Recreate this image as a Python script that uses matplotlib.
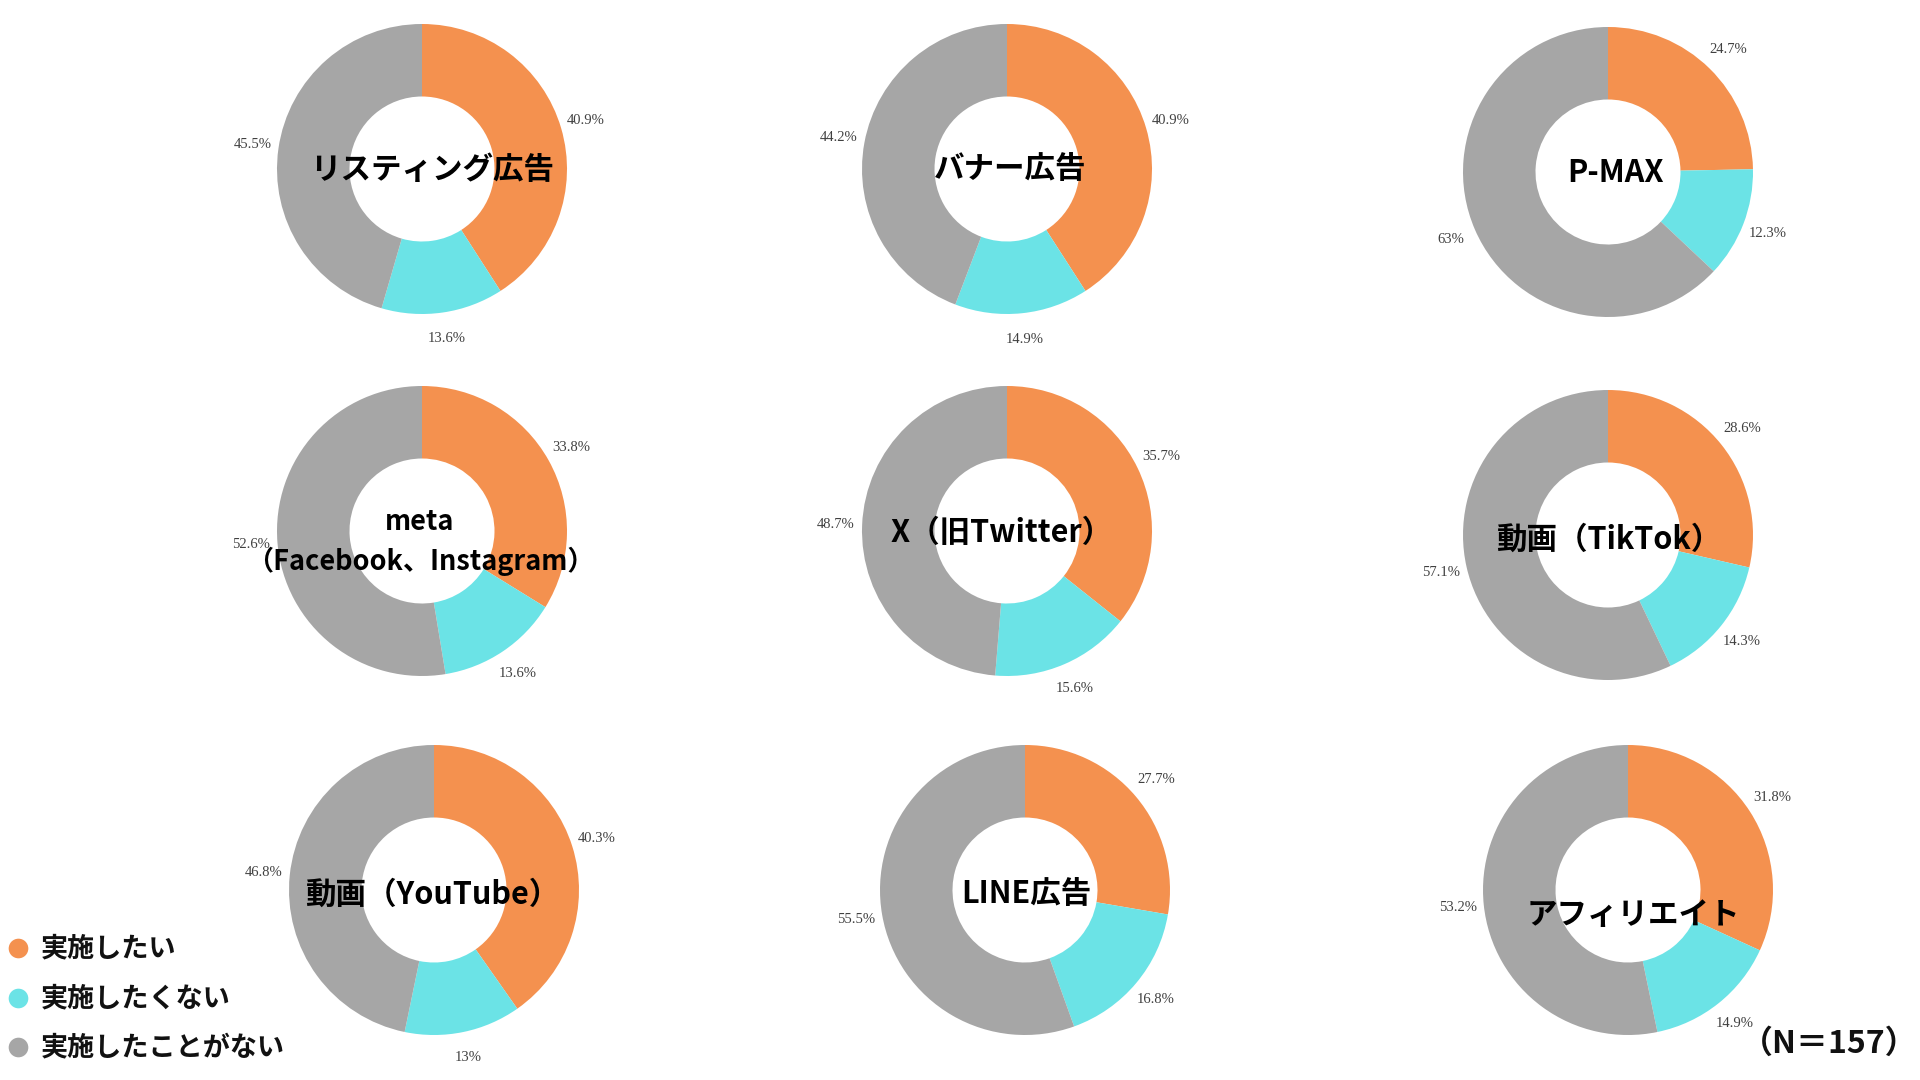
import matplotlib
matplotlib.use("Agg")
import matplotlib.pyplot as plt

plt.rcParams['font.family'] = ['Noto Sans CJK JP', 'DejaVu Sans']

# ---- data -------------------------------------------------------------
categories = ["実施したい", "実施したくない", "実施したことがない"]
titles = [
    "リスティング広告", "バナー広告", "P-MAX",
    "meta\n（Facebook、Instagram）", "X（旧Twitter）", "動画（TikTok）",
    "動画（YouTube）", "LINE広告", "アフィリエイト",
]
want = [40.9, 40.9, 24.7, 33.8, 35.7, 28.6, 40.3, 27.7, 31.8]
not_want = [13.6, 14.9, 12.3, 13.6, 15.6, 14.3, 13.0, 16.8, 14.9]
never = [45.5, 44.2, 63.0, 52.6, 48.7, 57.1, 46.8, 55.5, 53.2]
sample_note = "（N＝157）"

colors = ["#F4914F", "#6BE3E6", "#A6A6A6"]

# ---- layout (pixels, origin top-left) ---------------------------------
W, H = 1920, 1080
R = 145                       # outer radius in px
LIM = 1.5                     # data half-extent of each donut axes
S = 2 * LIM * R               # axes side in px
centers = [
    (422, 169), (1007, 169), (1608, 172),
    (422, 531), (1007, 531), (1608, 535),
    (434, 890), (1025, 890), (1628, 890),
]
# title offsets from donut centre, px (right, down)
title_offsets = [
    (10, 1), (3, 0), (8, 1),
    (-2, 11), (-5, 2), (1, 5),
    (-2, 5), (1, 4), (5, 25),
]

fig = plt.figure(figsize=(W / 100, H / 100), dpi=100)
fig.patch.set_facecolor("white")

for i, (cx, cy) in enumerate(centers):
    ax = fig.add_axes([(cx - S / 2) / W, 1 - (cy + S / 2) / H, S / W, S / H])
    vals = [want[i], not_want[i], never[i]]
    labels = [f"{v:g}%" for v in vals]
    wedges, texts = ax.pie(
        vals, colors=colors, labels=labels, startangle=90,
        counterclock=False, radius=1.0, labeldistance=1.18,
        wedgeprops=dict(width=0.5, linewidth=0),
        textprops=dict(family="Liberation Serif", fontsize=10.5, color="#404040"),
    )
    for t in texts:
        t.set_ha("center")
        t.set_va("center")
    ax.set_xlim(-LIM, LIM)
    ax.set_ylim(-LIM, LIM)
    ax.set_aspect("equal")
    ax.axis("off")

    ox, oy = title_offsets[i]
    lines = titles[i].split("\n")
    if len(lines) == 1:
        ax.text(ox / R, -oy / R, lines[0], ha="center", va="center",
                fontsize=22, fontweight="bold", color="black", zorder=5)
    else:
        pitch = 39
        n = len(lines)
        for k, line in enumerate(lines):
            yy = oy + (k - (n - 1) / 2) * pitch
            ax.text(ox / R, -yy / R, line, ha="center", va="center",
                    fontsize=19.5, fontweight="bold", color="black", zorder=5)

# ---- overlay for legend and sample size ------------------------------
ov = fig.add_axes([0, 0, 1, 1], zorder=10)
ov.set_xlim(0, W)
ov.set_ylim(H, 0)
ov.axis("off")
ov.patch.set_alpha(0)

legend_y = [948, 998, 1047]
for lab, col, y in zip(categories, colors, legend_y):
    ov.scatter([18], [y], s=200, color=col, linewidths=0)
    ov.text(41, y, lab, ha="left", va="center", fontsize=19.5,
            fontweight="bold", color="#111111")

ov.text(1917, 1044, sample_note, ha="right", va="center", fontsize=23,
        fontweight="bold", color="#111111")

fig.savefig("out.png", dpi=100, facecolor="white")
